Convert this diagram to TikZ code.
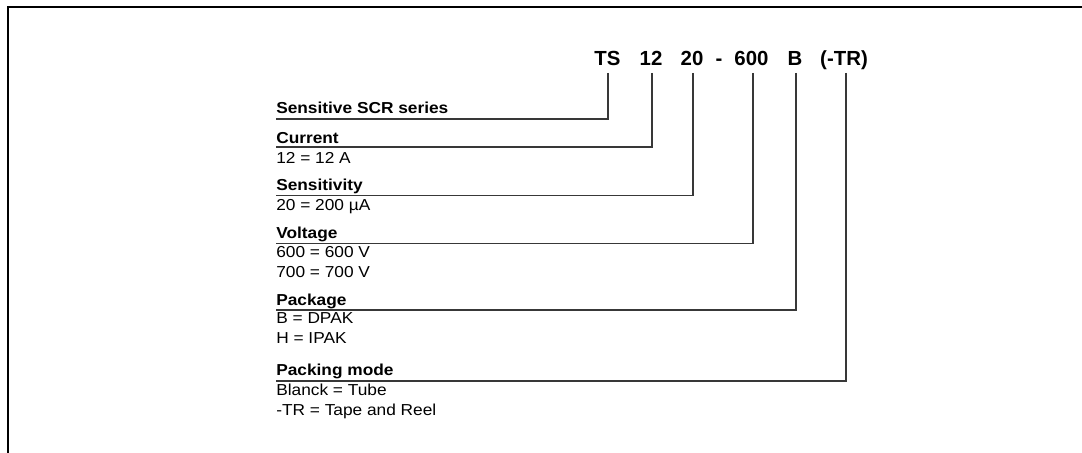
\documentclass[tikz,border=0pt]{standalone}
\usepackage{fontspec}
\setmainfont{Liberation Sans}
\newfontfamily\lblfont[FakeStretch=1.09]{Liberation Sans}
\begin{document}
\begin{tikzpicture}[x=0.75pt,y=-0.75pt,
  code/.style={font=\bfseries\fontsize{15.3}{18}\selectfont, inner sep=0, anchor=base},
  ttl/.style={font=\lblfont\bfseries\fontsize{11.9}{13}\selectfont, inner sep=0, anchor=base west},
  val/.style={font=\lblfont\fontsize{11.9}{13}\selectfont, inner sep=0, anchor=base west},
  conn/.style={draw=black!78, line width=0.9pt}]
\useasboundingbox (0,0) rectangle (1082,453);
\draw[line width=1.9pt] (8,470) -- (8,7) -- (1100,7);

% code
\node[code] (ts)   at (607.5,65) {TS};
\node[code] (c12)  at (651,65) {12};
\node[code] (c20)  at (692,65) {20};
\node[code] (dash) at (719,65) {-};
\node[code] (c600) at (751.5,65) {600};
\node[code] (cb)   at (795,65) {B};
\node[code] (ctr)  at (844,65) {(-TR)};

% labels
\node[ttl] (scr)  at (276,113.5) {Sensitive SCR series};
\node[ttl] (cur)  at (276,143) {Current};
\node[val] (cur1) at (276,163.5) {12 = 12 A};
\node[ttl] (sen)  at (276,190) {Sensitivity};
\node[val] (sen1) at (276,210) {20 = 200 µA};
\node[ttl] (vol)  at (276,238) {Voltage};
\node[val] (vol1) at (276,257) {600 = 600 V};
\node[val] (vol2) at (276,277) {700 = 700 V};
\node[ttl] (pkg)  at (276,305) {Package};
\node[val] (pkg1) at (276,323) {B = DPAK};
\node[val] (pkg2) at (276,343) {H = IPAK};
\node[ttl] (pm)   at (276,375) {Packing mode};
\node[val] (pm1)  at (276,395.5) {Blanck = Tube};
\node[val] (pm2)  at (276,415) {-TR = Tape and Reel};

% line ends
\coordinate (l1) at (276,119);
\coordinate (l2) at (276,147);
\coordinate (l3) at (276,195.5);
\coordinate (l4) at (276,243.5);
\coordinate (l5) at (276,310);
\coordinate (l6) at (276,381);

\draw[conn] (ts.base)   ++(0.5,8) |- (l1);
\draw[conn] (c12.base)  ++(1,8) |- (l2);
\draw[conn] (c20.base)  ++(1,8) |- (l3);
\draw[conn] (c600.base) ++(1.5,8) |- (l4);
\draw[conn] (cb.base)   ++(1,8) |- (l5);
\draw[conn] (ctr.base)  ++(2,8) |- (l6);
\end{tikzpicture}
\end{document}
